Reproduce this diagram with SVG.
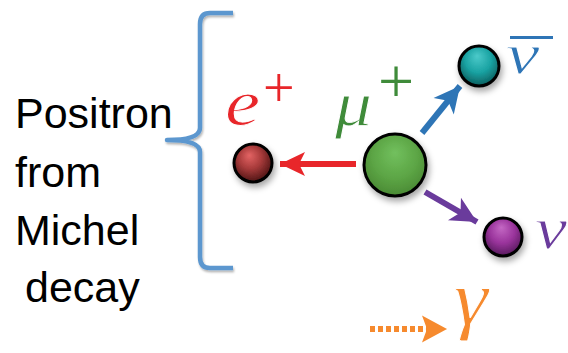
<svg xmlns="http://www.w3.org/2000/svg" width="568" height="353" viewBox="0 0 568 353">
<style>
.lbl{font-family:"Liberation Sans",Arial,sans-serif;font-size:43px;fill:#000}
.math{font-family:"Liberation Serif","DejaVu Serif",serif;font-style:italic;stroke:#fff;stroke-width:0.9px}
.plus{font-family:"Liberation Serif","DejaVu Serif",serif}
.ball{stroke:#000;stroke-width:3;filter:url(#sh)}
</style>
<defs>
<filter id="sh" x="-50%" y="-50%" width="200%" height="200%">
<feDropShadow dx="2" dy="4" stdDeviation="3" flood-color="#000" flood-opacity="0.35"/>
</filter>
<filter id="bsh" x="-20%" y="-5%" width="140%" height="110%">
<feDropShadow dx="1" dy="2" stdDeviation="1.2" flood-color="#000" flood-opacity="0.3"/>
</filter>
<radialGradient id="gRed" cx="0.45" cy="0.4" r="0.6" fx="0.4" fy="0.3">
<stop offset="0" stop-color="#e36464"/><stop offset="0.5" stop-color="#a83b3b"/><stop offset="1" stop-color="#4e1414"/>
</radialGradient>
<radialGradient id="gGreen" cx="0.5" cy="0.4" r="0.6" fx="0.5" fy="0.3">
<stop offset="0" stop-color="#72c05e"/><stop offset="0.6" stop-color="#5ca545"/><stop offset="1" stop-color="#4a8a34"/>
</radialGradient>
<radialGradient id="gTeal" cx="0.5" cy="0.4" r="0.6" fx="0.45" fy="0.25">
<stop offset="0" stop-color="#4ccaca"/><stop offset="0.55" stop-color="#1aa3a3"/><stop offset="1" stop-color="#0b5d5d"/>
</radialGradient>
<radialGradient id="gPurple" cx="0.5" cy="0.4" r="0.6" fx="0.45" fy="0.25">
<stop offset="0" stop-color="#c468c4"/><stop offset="0.55" stop-color="#9a349c"/><stop offset="1" stop-color="#561a5c"/>
</radialGradient>
<marker id="hRed" markerUnits="userSpaceOnUse" markerWidth="32" markerHeight="32" viewBox="-30 -15 32 30" refX="0" refY="0" orient="auto">
<path d="M0,0 L-25,-12 L-19,0 L-25,12 Z" fill="#e8262a"/>
</marker>
<marker id="hBlue" markerUnits="userSpaceOnUse" markerWidth="32" markerHeight="32" viewBox="-30 -15 32 30" refX="0" refY="0" orient="auto">
<path d="M0,0 L-26,-13 L-19,0 L-26,13 Z" fill="#2e75b6"/>
</marker>
<marker id="hPurple" markerUnits="userSpaceOnUse" markerWidth="32" markerHeight="32" viewBox="-30 -15 32 30" refX="0" refY="0" orient="auto">
<path d="M0,0 L-26,-13 L-19,0 L-26,13 Z" fill="#6a3b9c"/>
</marker>
<marker id="hOrange" markerUnits="userSpaceOnUse" markerWidth="32" markerHeight="32" viewBox="-30 -15 32 30" refX="0" refY="0" orient="auto">
<path d="M0,0 L-25,-13.5 L-20,0 L-25,13.5 Z" fill="#f68a2e"/>
</marker>
</defs>
<rect width="568" height="353" fill="#fff"/>

<g id="label">
<text class="lbl" x="15" y="128">Positron</text>
<text class="lbl" x="15" y="187">from</text>
<text class="lbl" x="15" y="245">Michel</text>
<text class="lbl" x="25" y="302">decay</text>
</g>

<g id="brace">
<path d="M233,13 L210,13 Q200,13 200,24 L200,128 Q200,140 167,140 Q200,140 200,152 L200,257 Q200,268 210,268 L233,268" fill="none" stroke="#5b97cf" stroke-width="4.5" stroke-linejoin="round" filter="url(#bsh)"/>
</g>

<g id="connectors" fill="none">
<line x1="356" y1="164" x2="280" y2="164" stroke="#e8262a" stroke-width="6" marker-end="url(#hRed)"/>
<line x1="422" y1="133" x2="460" y2="86" stroke="#2e75b6" stroke-width="6" marker-end="url(#hBlue)"/>
<line x1="425" y1="192" x2="477" y2="222" stroke="#6a3b9c" stroke-width="6" marker-end="url(#hPurple)"/>
<line x1="370" y1="329" x2="427" y2="329" stroke="#f68a2e" stroke-width="6" stroke-dasharray="5 3"/>
<line x1="425" y1="329" x2="447" y2="329" stroke="#f68a2e" stroke-width="0.1" marker-end="url(#hOrange)"/>
</g>

<g id="positron">
<circle class="ball" cx="253" cy="163" r="19" fill="url(#gRed)"/>
<text class="math" x="0" y="0" font-size="66" fill="#e8262a" transform="translate(225 125) scale(1.2 1)">e</text>
<text class="plus" x="263" y="107" font-size="56" fill="#e8262a">+</text>
</g>

<g id="muon">
<circle class="ball" cx="395" cy="165" r="31" fill="url(#gGreen)"/>
<text class="math" x="0" y="0" font-size="64" fill="#3f8b3a" transform="translate(335 125) scale(1.15 1)">μ</text>
<text class="plus" x="378" y="103" font-size="64" fill="#3f8b3a">+</text>
</g>

<g id="antineutrino">
<circle class="ball" cx="479" cy="66" r="20" fill="url(#gTeal)"/>
<text class="math" x="0" y="0" font-size="58" fill="#2e75b6" transform="translate(506 73) scale(1.3 1)">ν</text>
<line x1="510" y1="37.5" x2="553" y2="37.5" stroke="#2e75b6" stroke-width="3"/>
</g>

<g id="neutrino">
<circle class="ball" cx="503" cy="237" r="19" fill="url(#gPurple)"/>
<text class="math" x="0" y="0" font-size="60" fill="#6a3b9c" transform="translate(535 248) scale(1.2 1)">ν</text>
</g>

<g id="photon">
<text class="math" x="0" y="0" font-size="78" fill="#f68a2e" transform="translate(454 324) scale(1.1 1)">γ</text>
</g>
</svg>
